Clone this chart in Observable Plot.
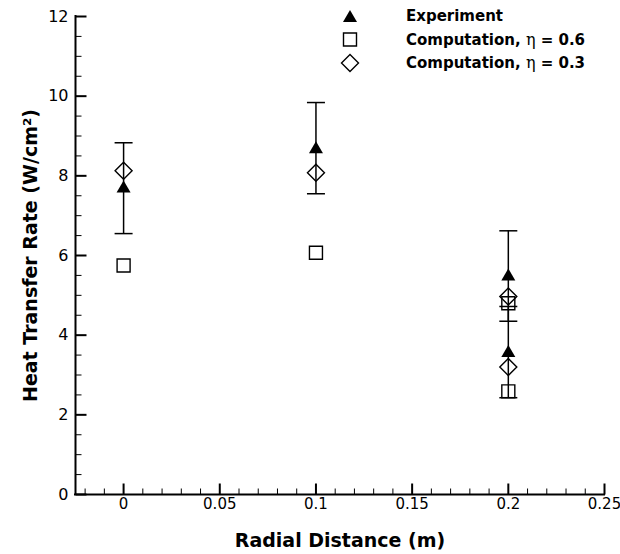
<!DOCTYPE html>
<html>
<head>
<meta charset="utf-8">
<script src="https://cdn.jsdelivr.net/npm/d3@7"></script>
<script src="https://cdn.jsdelivr.net/npm/@observablehq/plot@0.6"></script>
<style>
  html, body { margin: 0; padding: 0; background: #fff; }
  #wrap { position: relative; width: 620px; height: 554px; }
  #legend { position: absolute; left: 0; top: 0; }
</style>
</head>
<body>
<div id="wrap"></div>
<script>
// ---- data ----
const xExp   = [0, 0.1, 0.2, 0.2];
const expVal = [7.73, 8.72, 5.52, 3.60];
const expLo  = [6.55, 7.55, 4.35, 2.43];
const expHi  = [8.83, 9.84, 6.62, 4.72];

const xComp  = [0, 0.1, 0.2, 0.2];
const comp06 = [5.75, 6.07, 4.80, 2.59];
const comp03 = [8.13, 8.08, 4.97, 3.20];

const xDomain = [-0.025, 0.25];
const yDomain = [0, 12];
const xMajor = [0, 0.05, 0.1, 0.15, 0.2, 0.25];
const xMinor = [-0.02, -0.01, 0.01, 0.02, 0.03, 0.04, 0.06, 0.07, 0.08, 0.09,
                0.11, 0.12, 0.13, 0.14, 0.16, 0.17, 0.18, 0.19, 0.21, 0.22, 0.23, 0.24];
const yMajor = [0, 2, 4, 6, 8, 10, 12];
const yMinor = [0.5, 1, 1.5, 2.5, 3, 3.5, 4.5, 5, 5.5, 6.5, 7, 7.5, 8.5, 9, 9.5, 10.5, 11, 11.5];

const xTitle = "Radial Distance (m)";
const yTitle = "Heat Transfer Rate (W/cm²)";
const legendLabels = ["Experiment", "Computation, η = 0.6", "Computation, η = 0.3"];

// ---- tables ----
const exp = xExp.map((x, i) => ({x, v: expVal[i], lo: expLo[i], hi: expHi[i]}));
const c06 = xComp.map((x, i) => ({x, v: comp06[i]}));
const c03 = xComp.map((x, i) => ({x, v: comp03[i]}));

// ---- custom symbols ----
const triUp = {draw(c) { c.moveTo(0, -6); c.lineTo(7, 6); c.lineTo(-7, 6); c.closePath(); }};
const square = {draw(c) { c.moveTo(-6.5, -6.5); c.lineTo(6.5, -6.5); c.lineTo(6.5, 6.5); c.lineTo(-6.5, 6.5); c.closePath(); }};
const diamond = {draw(c) { c.moveTo(0, -8.5); c.lineTo(8.5, 0); c.lineTo(0, 8.5); c.lineTo(-8.5, 0); c.closePath(); }};
const cap = {draw(c) { c.moveTo(-9, 0); c.lineTo(9, 0); }};
const vtick = L => ({draw(c) { c.moveTo(0, 0); c.lineTo(0, -L); }});
const htick = L => ({draw(c) { c.moveTo(0, 0); c.lineTo(L, 0); }});

const font = "DejaVu Sans, Liberation Sans, sans-serif";

const chart = Plot.plot({
  width: 620,
  height: 554,
  marginLeft: 75,
  marginRight: 16,
  marginTop: 16,
  marginBottom: 60,
  style: {fontFamily: font, background: "#fff", color: "#000"},
  x: {domain: xDomain, axis: null},
  y: {domain: yDomain, axis: null},
  marks: [
    // tick marks (inward)
    Plot.dot(xMinor, {x: d => d, frameAnchor: "bottom", symbol: vtick(6), stroke: "#000", strokeWidth: 1}),
    Plot.dot(xMajor, {x: d => d, frameAnchor: "bottom", symbol: vtick(11), stroke: "#000", strokeWidth: 2}),
    Plot.dot(yMinor, {y: d => d, frameAnchor: "left", symbol: htick(6), stroke: "#000", strokeWidth: 1}),
    Plot.dot(yMajor, {y: d => d, frameAnchor: "left", symbol: htick(11), stroke: "#000", strokeWidth: 2}),
    // axis lines
    Plot.ruleY([yDomain[0]], {stroke: "#000", strokeWidth: 2, strokeLinecap: "square"}),
    Plot.ruleX([xDomain[0]], {stroke: "#000", strokeWidth: 2, strokeLinecap: "square"}),
    // tick labels
    Plot.axisX(xMajor, {tickSize: 0, tickPadding: 4, fontSize: 15, label: null, tickFormat: d => String(d)}),
    Plot.axisY(yMajor, {tickSize: 0, tickPadding: 7, fontSize: 16, label: null, tickFormat: d => String(d)}),
    // titles
    Plot.text([xTitle], {frameAnchor: "bottom", dy: 46, text: d => d, fontSize: 19, fontWeight: "bold", lineAnchor: "middle", textAnchor: "middle"}),
    Plot.text([yTitle], {frameAnchor: "left", dx: -45, rotate: -90, text: d => d, fontSize: 19, fontWeight: "bold", lineAnchor: "middle", textAnchor: "middle"}),
    // error bars
    Plot.ruleX(exp, {x: "x", y1: "lo", y2: "hi", stroke: "#000", strokeWidth: 1.5}),
    Plot.dot(exp, {x: "x", y: "lo", symbol: cap, stroke: "#000", fill: "none", strokeWidth: 1.5}),
    Plot.dot(exp, {x: "x", y: "hi", symbol: cap, stroke: "#000", fill: "none", strokeWidth: 1.5}),
    // computations
    Plot.dot(c06, {x: "x", y: "v", symbol: square, stroke: "#000", fill: "none", strokeWidth: 1.4}),
    Plot.dot(c03, {x: "x", y: "v", symbol: diamond, stroke: "#000", fill: "none", strokeWidth: 1.4}),
    // experiment
    Plot.dot(exp, {x: "x", y: "v", symbol: triUp, fill: "#000", stroke: "none"})
  ]
});

const wrap = document.getElementById("wrap");
wrap.appendChild(chart);

// ---- legend (inside the plot, top right) ----
const legendSymbols = [triUp, square, diamond];
const legendFill = ["#000", "none", "none"];
const leg = d3.select(wrap).append("svg")
  .attr("id", "legend").attr("width", 620).attr("height", 80)
  .style("font-family", font);
legendLabels.forEach((lab, i) => {
  const cy = 16 + i * 23.5;
  leg.append("path")
    .attr("transform", `translate(350,${cy})`)
    .attr("d", d3.symbol().type(legendSymbols[i])())
    .attr("fill", legendFill[i])
    .attr("stroke", legendFill[i] === "none" ? "#000" : "none")
    .attr("stroke-width", 1.4);
  const t = leg.append("text")
    .attr("x", 406).attr("y", cy).attr("dy", "0.36em")
    .attr("font-size", 15).attr("font-weight", "bold");
  const parts = lab.split("η");
  t.append("tspan").text(parts[0]);
  if (parts.length > 1) {
    t.append("tspan").attr("font-family", "DejaVu Serif, Liberation Serif, serif")
      .attr("font-weight", "normal").attr("font-size", 16).text("η");
    t.append("tspan").text(parts[1]);
  }
});
</script>
</body>
</html>
